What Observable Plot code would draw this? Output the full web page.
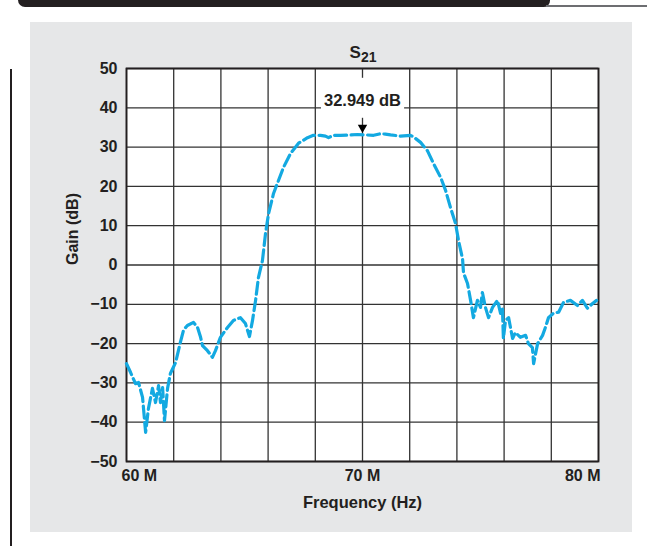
<!DOCTYPE html>
<html>
<head>
<meta charset="utf-8">
<script src="https://cdn.jsdelivr.net/npm/d3@7"></script>
<script src="https://cdn.jsdelivr.net/npm/@observablehq/plot@0.6"></script>
<style>
  html, body { margin: 0; padding: 0; background: #ffffff; }
  body { position: relative; width: 647px; height: 546px; overflow: hidden; font-family: "Liberation Sans", Arial, sans-serif; }
  #topbar { position: absolute; left: 18px; top: 0; width: 532px; height: 7px; background: #231f20; border-bottom-left-radius: 10px; border-bottom-right-radius: 9px; }
  #topline { position: absolute; left: 546px; top: 5px; width: 101px; height: 2px; background: #6d6e71; }
  #leftline { position: absolute; left: 10px; top: 69px; width: 2px; height: 477px; background: #231f20; }
  #panel { position: absolute; left: 30px; top: 22px; width: 602px; height: 510px; background: #e6e7e8; }
  #chart { position: absolute; left: 30px; top: 22px; }
</style>
</head>
<body>
<div id="topbar"></div>
<div id="topline"></div>
<div id="leftline"></div>
<div id="panel"></div>
<div id="chart"></div>
<script>
// Frequency in MHz, gain in dB
const freqMHz = [
  60.00, 60.17, 60.38, 60.51, 60.68, 60.81, 60.93, 61.10, 61.23, 61.36,
  61.44, 61.53, 61.61, 61.74, 61.86, 62.08, 62.29, 62.42, 62.58, 62.84,
  63.01, 63.14, 63.22, 63.43, 63.64, 63.77, 63.98, 64.28, 64.53, 64.83,
  65.04, 65.21, 65.34, 65.47, 65.59, 65.76, 65.89, 66.02, 66.23, 66.44,
  66.65, 66.95, 67.29, 67.67, 67.92, 68.22, 68.43, 68.56, 68.77, 69.07,
  69.49, 69.79, 70.13, 70.47, 70.76, 70.97, 71.19, 71.61, 72.03, 72.16,
  72.46, 72.75, 73.01, 73.31, 73.52, 73.73, 73.94, 74.07, 74.24, 74.28,
  74.45, 74.58, 74.70, 74.87, 75.00, 75.08, 75.21, 75.34, 75.51, 75.72,
  75.85, 75.93, 75.97, 76.06, 76.19, 76.36, 76.48, 76.69, 76.91, 77.03,
  77.20, 77.25, 77.42, 77.63, 77.75, 77.88, 78.09, 78.31, 78.52, 78.81,
  79.11, 79.32, 79.53, 79.75, 79.92
];
const gainDB = [
  -25.1, -27.3, -30.2, -29.9, -33.7, -42.6, -36.5, -31.4, -35.0, -30.7,
  -35.0, -31.2, -39.6, -31.4, -27.6, -24.8, -19.5, -16.5, -15.4, -14.6,
  -15.9, -18.4, -20.5, -21.8, -23.5, -21.8, -18.4, -15.9, -14.1, -13.4,
  -14.9, -18.2, -14.1, -9.0, -3.2, 1.1, 8.0, 13.1, 18.2, 21.5,
  24.8, 28.4, 31.0, 32.4, 33.0, 33.0, 32.8, 32.4, 33.0, 33.0,
  33.1, 33.2, 33.1, 33.0, 33.4, 33.3, 33.1, 32.8, 33.0, 32.6,
  31.2, 29.1, 25.8, 22.3, 19.0, 14.6, 10.6, 6.2, 1.5, -2.0,
  -4.7, -9.0, -13.4, -9.0, -10.8, -7.0, -10.8, -13.4, -10.8, -9.0,
  -12.3, -11.0, -18.7, -14.1, -13.4, -18.7, -17.2, -18.4, -17.9, -20.0,
  -21.0, -25.1, -20.0, -17.9, -15.9, -13.4, -12.3, -12.0, -9.5, -9.0,
  -10.3, -9.0, -11.0, -9.8, -9.0
];
const xGrid = [60, 62, 64, 66, 68, 70, 72, 74, 76, 78, 80];
const xTicks = [60, 70, 80];
const xTickLabels = ["60 M", "70 M", "80 M"];
const yTicks = [50, 40, 30, 20, 10, 0, -10, -20, -30, -40, -50];
const yTickLabels = ["50", "40", "30", "20", "10", "0", "\u221210", "\u221220", "\u221230", "\u221240", "\u221250"];
const xTitle = "Frequency (Hz)";
const yTitle = "Gain (dB)";
const titleMain = "S";
const titleSub = "21";
const markerFreq = [70];
const markerGain = [32.949];
const markerLabel = ["32.949 dB"];

const data = freqMHz.map((f, i) => ({f, g: gainDB[i]}));
const marker = markerFreq.map((f, i) => ({f, g: markerGain[i], label: markerLabel[i]}));
const ink = "#231f20";
const fontFamily = "'Liberation Sans', Arial, Helvetica, sans-serif";
const bold = {fontWeight: "bold", fill: ink, lineAnchor: "middle"};

const plot = Plot.plot({
  width: 602,
  height: 510,
  marginLeft: 96,
  marginRight: 34,
  marginTop: 46,
  marginBottom: 71,
  style: {background: "transparent", fontFamily, overflow: "visible"},
  x: {domain: [60, 80], axis: null},
  y: {domain: [-50, 50], axis: null},
  marks: [
    Plot.frame({fill: "white", stroke: null}),
    Plot.ruleX(xGrid, {x: d => d, stroke: "#333333", strokeWidth: 1.3}),
    Plot.ruleY(yTicks, {y: d => d, stroke: "#333333", strokeWidth: 1.3}),
    Plot.frame({stroke: ink, strokeWidth: 1.8}),
    Plot.line(data, {x: "f", y: "g", stroke: "#13a9e1", strokeWidth: 3.2, strokeDasharray: "12,4.5", strokeLinejoin: "round"}),
    Plot.text(yTicks, {frameAnchor: "left", y: d => d, text: (d, i) => yTickLabels[i], textAnchor: "end", dx: -9, fontSize: 16, ...bold}),
    Plot.text([0], {frameAnchor: "bottom", x: () => xTicks[0], text: () => xTickLabels[0], textAnchor: "start", dx: -5, dy: 14, fontSize: 16, ...bold}),
    Plot.text([1], {frameAnchor: "bottom", x: () => xTicks[1], text: () => xTickLabels[1], textAnchor: "middle", dy: 14, fontSize: 16, ...bold}),
    Plot.text([2], {frameAnchor: "bottom", x: () => xTicks[2], text: () => xTickLabels[2], textAnchor: "end", dx: 2, dy: 14, fontSize: 16, ...bold}),
    Plot.text([xTitle], {frameAnchor: "bottom", text: d => d, dy: 41, fontSize: 16.5, ...bold}),
    Plot.text([yTitle], {frameAnchor: "left", text: d => d, rotate: -90, dx: -54, fontSize: 16, ...bold}),
    Plot.text(marker, {x: "f", y: "g", text: "label", dy: -35, fontSize: 16.5, ...bold}),
    Plot.dot(marker, {x: "f", y: "g", symbol: "triangle", rotate: 180, r: 3.5, dy: -8, fill: "#000", stroke: null})
  ]
});

document.getElementById("chart").appendChild(plot);

// white box behind the marker label
const svg = d3.select(plot);
svg.selectAll("text").filter(function() { return this.textContent === markerLabel[0]; }).each(function() {
  const b = this.getBBox();
  const m = plot.getScreenCTM().inverse().multiply(this.getScreenCTM());
  const x0 = m.a * b.x + m.e, y0 = m.d * b.y + m.f;
  const g = this.parentNode;
  svg.insert("rect", () => g)
    .attr("x", x0 - 3).attr("y", y0 - 13)
    .attr("width", b.width + 6).attr("height", b.height + 22)
    .attr("fill", "white");
});

// Title S21 with subscript
const cx = plot.scale("x").apply(markerFreq[0]);
const title = svg.append("text")
  .attr("x", cx + 1).attr("y", 36)
  .attr("text-anchor", "middle")
  .attr("fill", ink)
  .attr("font-family", fontFamily)
  .attr("font-weight", "bold");
title.append("tspan").attr("font-size", 17).text(titleMain);
title.append("tspan").attr("font-size", 14).attr("dy", 4).text(titleSub);
</script>
</body>
</html>
